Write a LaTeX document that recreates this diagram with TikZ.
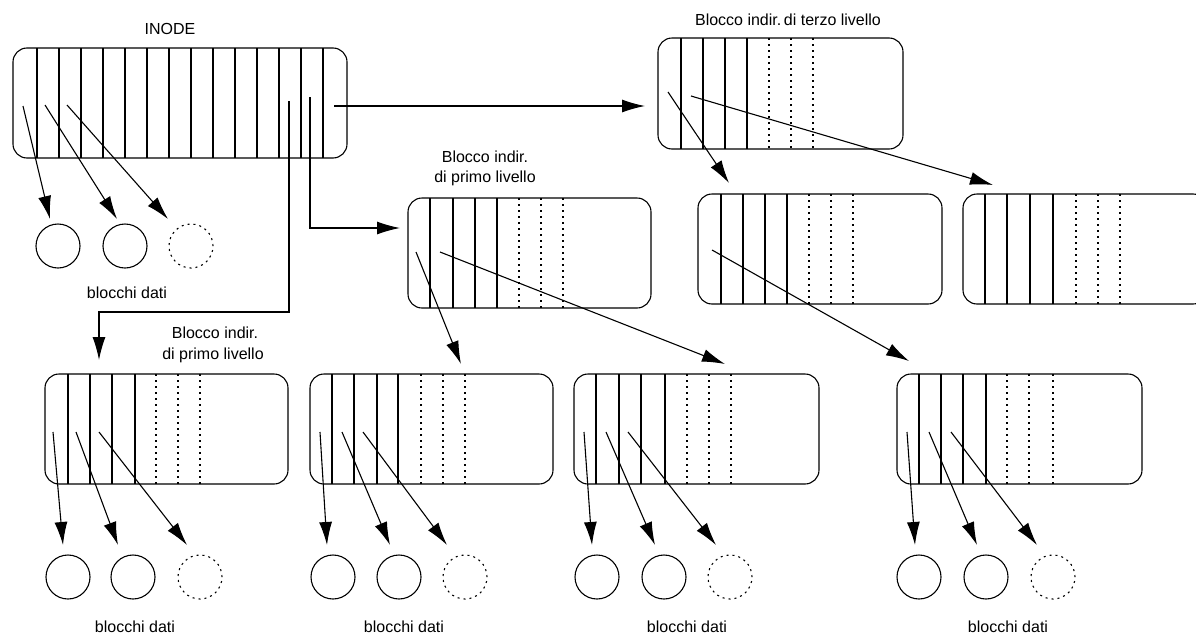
\documentclass[tikz,border=0pt]{standalone}
\usepackage{fontspec}
\setmainfont{Liberation Sans}
\usetikzlibrary{arrows.meta}
\begin{document}
\begin{tikzpicture}[x=1pt,y=-1pt,line width=1.1pt,
  blk/.style={draw,rounded corners=14pt,inner sep=0pt,outer sep=0pt,minimum width=243pt,minimum height=110pt,anchor=north west},
  dat/.style={draw,circle,minimum size=44pt,inner sep=0pt},
  ghost/.style={dat,dash pattern=on 2pt off 4pt},
  dots/.style={dash pattern=on 2pt off 4pt},
  ptr/.style={-{Latex[length=23pt,width=13pt]}},
  lbl/.style={font=\fontsize{16}{19}\selectfont,inner sep=0pt}]
\useasboundingbox (0,0) rectangle (1196,640);

% ---------- INODE ----------
\node[lbl] (tinode) at (170,29) {INODE};
\node[blk,minimum width=334pt] (inode) at (13,48) {};
\foreach \x in {37,59,...,323} \draw (\x,48) -- (\x,158);
\node[dat] (c01) at (58,246) {};
\node[dat] (c02) at (125,246) {};
\node[ghost] (c03) at (191,246) {};
\node[lbl] (l0) at (127,293) {blocchi dati};
\coordinate (i1) at (23,106); \coordinate (e1) at (50,219);
\coordinate (i2) at (45,105); \coordinate (e2) at (117,219);
\coordinate (i3) at (67,105); \coordinate (e3) at (168,219);
\draw[ptr] (i1) -- (e1);
\draw[ptr] (i2) -- (e2);
\draw[ptr] (i3) -- (e3);

% ---------- third level block ----------
\node[lbl] (tterzo) at (788,20) {Blocco indir.\,di terzo livello};
\node[blk,minimum width=245pt,minimum height=111pt] (terzo) at (658,38) {};
\foreach \x in {681,703,725,747} \draw (\x,38) -- (\x,149);
\foreach \x in {769,791,813} \draw[dots] (\x,38) -- (\x,149);

% ---------- second level blocks ----------
\node[blk,minimum width=244pt] (secA) at (698,194) {};
\foreach \x in {721,743,765,787} \draw (\x,194) -- (\x,304);
\foreach \x in {809,831,853} \draw[dots] (\x,194) -- (\x,304);
\node[blk,minimum width=244pt] (secB) at (963,194) {};
\foreach \x in {985,1007,1030,1053} \draw (\x,194) -- (\x,304);
\foreach \x in {1076,1098,1120} \draw[dots] (\x,194) -- (\x,304);

% ---------- first level (middle) ----------
\node[lbl] (tmid1) at (485,157) {Blocco indir.};
\node[lbl] (tmid2) at (485,178) {di primo livello};
\node[blk] (mid) at (408,198) {};
\foreach \x in {430,453,475,497} \draw (\x,198) -- (\x,308);
\foreach \x in {519,541,563} \draw[dots] (\x,198) -- (\x,308);

% ---------- bottom blocks ----------
\node[lbl] (tbl1) at (215,333) {Blocco indir.};
\node[lbl] (tbl2) at (213,355) {di primo livello};
\node[blk] (b1) at (45,374) {};
\foreach \x in {68,90,112,135} \draw (\x,374) -- (\x,484);
\foreach \x in {156,178,200} \draw[dots] (\x,374) -- (\x,484);
\node[blk] (b2) at (310,374) {};
\foreach \x in {332,354,377,398} \draw (\x,374) -- (\x,484);
\foreach \x in {421,443,465} \draw[dots] (\x,374) -- (\x,484);
\node[blk,minimum width=245pt] (b3) at (574,374) {};
\foreach \x in {596,619,641,665} \draw (\x,374) -- (\x,484);
\foreach \x in {687,709,731} \draw[dots] (\x,374) -- (\x,484);
\node[blk,minimum width=245pt] (b4) at (897,374) {};
\foreach \x in {919,941,963,986} \draw (\x,374) -- (\x,484);
\foreach \x in {1007,1029,1053} \draw[dots] (\x,374) -- (\x,484);

% data blocks under bottom blocks
\node[dat] (c11) at (68,577) {};  \node[dat] (c12) at (133,577) {};  \node[ghost] (c13) at (200,577) {};
\node[dat] (c21) at (333,577) {}; \node[dat] (c22) at (399,577) {}; \node[ghost] (c23) at (465,577) {};
\node[dat] (c31) at (597,577) {}; \node[dat] (c32) at (664,577) {}; \node[ghost] (c33) at (730,577) {};
\node[dat] (c41) at (919,577) {}; \node[dat] (c42) at (986,577) {}; \node[ghost] (c43) at (1053,577) {};
\node[lbl] (l1) at (135,627) {blocchi dati};
\node[lbl] (l2) at (404,627) {blocchi dati};
\node[lbl] (l3) at (687,627) {blocchi dati};
\node[lbl] (l4) at (1008,627) {blocchi dati};

% pointers in bottom blocks
\draw[ptr] (53,432) -- (63,545);  \draw[ptr] (76,432) -- (118,545);  \draw[ptr] (99,432) -- (187,545);
\draw[ptr] (320,432) -- (327,545); \draw[ptr] (342,432) -- (390,545); \draw[ptr] (363,432) -- (447,545);
\draw[ptr] (584,432) -- (592,545); \draw[ptr] (606,432) -- (655,545); \draw[ptr] (628,432) -- (716,545);
\draw[ptr] (907,432) -- (915,545); \draw[ptr] (929,432) -- (977,545); \draw[ptr] (951,432) -- (1037,545);

% ---------- inode indirect pointers ----------
\coordinate (p1) at (289,101);
\coordinate (p2) at (310,97);
\coordinate (p3) at (334,106);
\draw[ptr] (p3) -- (645,106);
\draw[ptr] (p2) -- (310,228) -- (400,228);
\draw[ptr] (p1) -- (289,312) -- (99,312) -- (99,360);

% middle block pointers
\draw[ptr] (416,252) -- (461,364);
\draw[ptr] (440,252) -- (725,364);
% third level pointers
\draw[ptr] (668,92) -- (729,183);
\draw[ptr] (691,96) -- (993,185);
% second level A pointer
\draw[ptr] (712,250) -- (909,361);
\end{tikzpicture}
\end{document}
